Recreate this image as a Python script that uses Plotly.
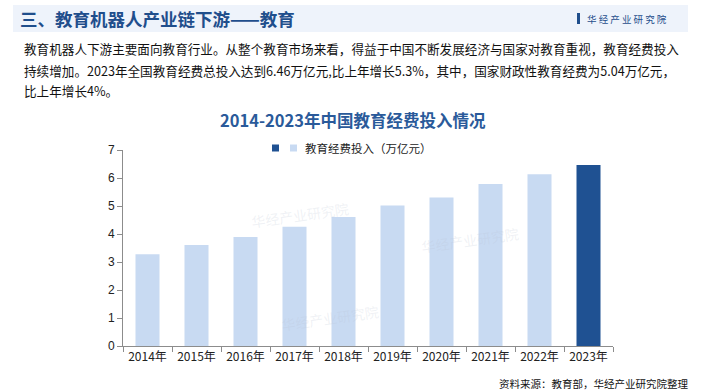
import plotly.graph_objects as go

years = ["2014年", "2015年", "2016年", "2017年", "2018年", "2019年", "2020年", "2021年", "2022年", "2023年"]
values = [3.28, 3.61, 3.89, 4.26, 4.61, 5.02, 5.30, 5.79, 6.13, 6.46]
series_name = "教育经费投入（万亿元）"
highlight_year = "2023年"
paragraph_lines = [
    "教育机器人下游主要面向教育行业。从整个教育市场来看，得益于中国不断发展经济与国家对教育重视，教育经费投入",
    "持续增加。2023年全国教育经费总投入达到6.46万亿元,比上年增长5.3%，其中，国家财政性教育经费为5.04万亿元，",
    "比上年增长4%。",
]

light_x = [y for y in years if y != highlight_year]
light_v = [v for y, v in zip(years, values) if y != highlight_year]
dark_x = [y for y in years if y == highlight_year]
dark_v = [v for y, v in zip(years, values) if y == highlight_year]

CJK = "Noto Sans CJK SC"
LAT = "Liberation Sans, Arial"
DARK = "#1f5192"
LIGHT = "#c8daf2"

fig = go.Figure()
fig.add_trace(go.Bar(x=dark_x, y=dark_v, name=" ", marker=dict(color=DARK, line=dict(width=0)),
                     showlegend=False))
fig.add_trace(go.Bar(x=light_x, y=light_v, name=series_name, marker=dict(color=LIGHT, line=dict(width=0)),
                     showlegend=False))

fig.update_layout(
    width=705, height=392,
    margin=dict(l=123, r=92, t=150, b=46),
    paper_bgcolor="white", plot_bgcolor="white",
    barmode="overlay", bargap=0.51,
    xaxis=dict(type="category", categoryorder="array", categoryarray=years,
               showline=True, linecolor="#8c8c8c", linewidth=1,
               ticks="outside", tickson="boundaries", ticklen=5, tickcolor="#8c8c8c",
               tickfont=dict(family=CJK, size=12, color="#222222"), showgrid=False),
    yaxis=dict(range=[0, 7], dtick=1, showline=True, linecolor="#8c8c8c", linewidth=1,
               ticks="outside", ticklen=5, tickcolor="#8c8c8c", showgrid=False, zeroline=False,
               tickfont=dict(family=LAT, size=12, color="#222222")),
)


def px(x):
    return (x - 123) / 490


def py(y):
    return (346 - y) / 196


shapes = [
    dict(type="rect", xref="paper", yref="paper", x0=px(13), x1=px(688),
         y0=py(5), y1=py(32), fillcolor="#eef3fb", line=dict(width=0), layer="below"),
    dict(type="rect", xref="paper", yref="paper", x0=px(577), x1=px(580),
         y0=py(13), y1=py(24), fillcolor="#1f4e8c", line=dict(width=0)),
    # legend markers
    dict(type="rect", xref="paper", yref="paper", x0=px(272), x1=px(279),
         y0=py(144.5), y1=py(151.5), fillcolor=DARK, line=dict(width=0)),
    dict(type="rect", xref="paper", yref="paper", x0=px(290), x1=px(297),
         y0=py(144.5), y1=py(151.5), fillcolor=LIGHT, line=dict(width=0)),
]

annotations = []
# faint watermarks
for (wx, wy) in [(300, 215), (470, 240), (330, 318)]:
    annotations.append(dict(text="华经产业研究院", x=px(wx), y=py(wy), xref="paper", yref="paper",
                            showarrow=False, font=dict(family=CJK, size=14, color="rgba(185,195,210,0.22)"),
                            textangle=-8, xanchor="center", yanchor="middle"))
annotations += [
    dict(text="<b>三、教育机器人产业链下游——教育</b>", x=px(18), y=py(18.5), xref="paper", yref="paper",
         showarrow=False, xanchor="left", yanchor="middle",
         font=dict(family=CJK, size=17.5, color="#1f4e8c")),
    dict(text="华 经 产 业 研 究 院", x=px(585), y=py(18.5), xref="paper", yref="paper",
         showarrow=False, xanchor="left", yanchor="middle",
         font=dict(family=CJK, size=9.5, color="#1f4e8c")),
    dict(text="<b>2014-2023年中国教育经费投入情况</b>", x=px(353), y=py(120), xref="paper", yref="paper",
         showarrow=False, xanchor="center", yanchor="middle",
         font=dict(family=CJK, size=16.5, color="#2a5a9a")),
    dict(text=series_name, x=px(303), y=py(148), xref="paper", yref="paper",
         showarrow=False, xanchor="left", yanchor="middle",
         font=dict(family=CJK, size=11.5, color="#222222")),
    dict(text="资料来源：教育部，华经产业研究院整理", x=px(690), y=py(383), xref="paper", yref="paper",
         showarrow=False, xanchor="right", yanchor="middle",
         font=dict(family=CJK, size=10.5, color="#111111")),
]
for line, ly in zip(paragraph_lines, [49, 70, 90]):
    annotations.append(dict(text=line, x=px(22), y=py(ly), xref="paper", yref="paper", showarrow=False,
                            xanchor="left", yanchor="middle", align="left",
                            font=dict(family=CJK, size=12.6, color="#111111")))
fig.update_layout(shapes=shapes, annotations=annotations)

fig.write_html("out.html", config={"displayModeBar": False},
               post_script="document.body.style.margin='0';document.body.style.overflow='hidden';")
